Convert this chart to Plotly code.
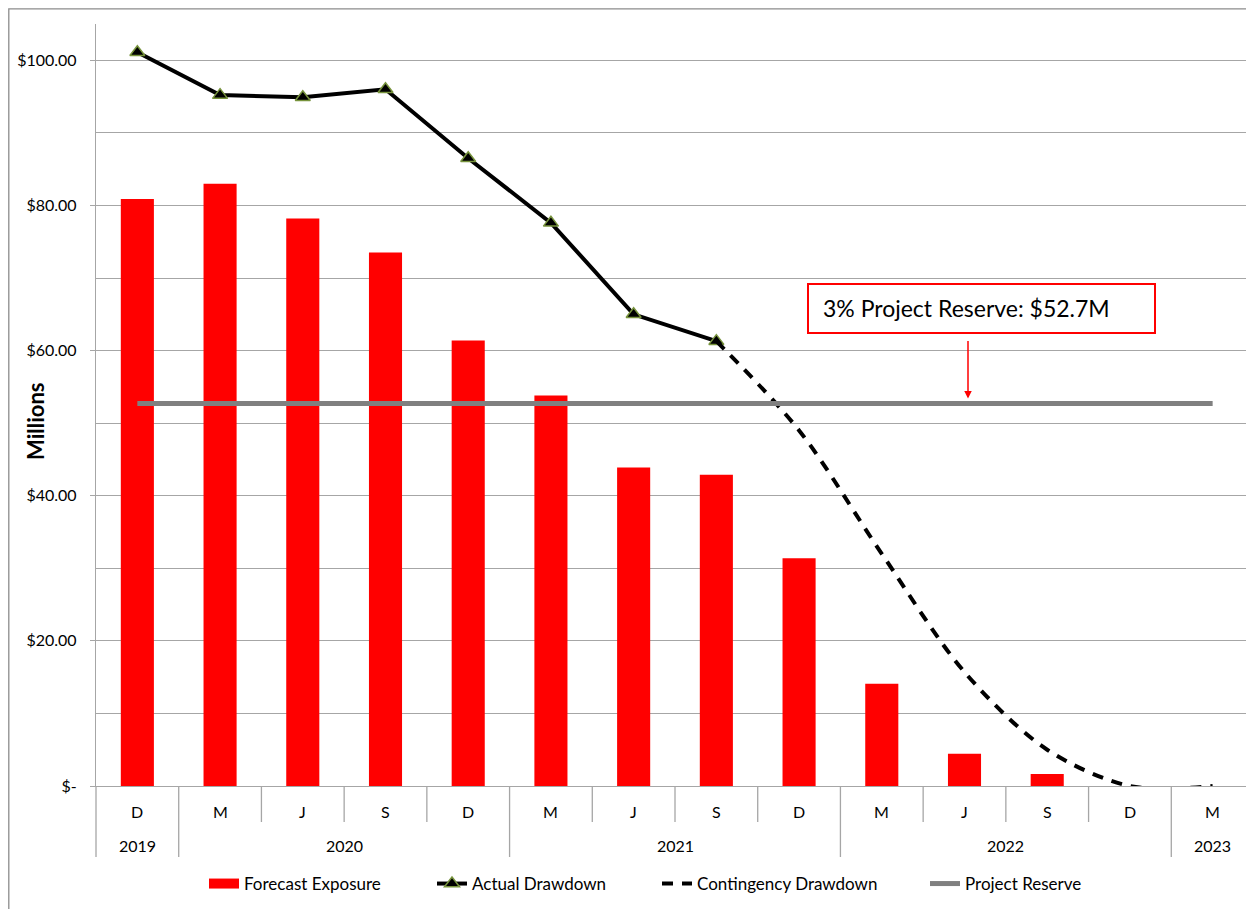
import plotly.graph_objects as go

# ---------------- data ----------------
quarters = ["D", "M", "J", "S", "D", "M", "J", "S", "D", "M", "J", "S", "D", "M"]
years = ["2019", "2020", "2020", "2020", "2020", "2021", "2021", "2021", "2021",
         "2022", "2022", "2022", "2022", "2023"]
forecast_exposure = [80.9, 83.0, 78.2, 73.5, 61.4, 53.8, 43.9, 42.9, 31.4, 14.1, 4.45, 1.65, 0, 0]
actual_drawdown = [101.1, 95.2, 94.9, 96.0, 86.5, 77.6, 65.0, 61.3,
                   None, None, None, None, None, None]
contingency_drawdown = [None, None, None, None, None, None, None,
                        61.3, 49.0, 32.0, 15.7, 5.0, 0, 0]
project_reserve = [52.7] * 14
y_tick_vals = [0, 20, 40, 60, 80, 100]
y_tick_text = ["$-", "$20.00", "$40.00", "$60.00", "$80.00", "$100.00"]
reserve_label = "3% Project Reserve: $52.7M"

FONT = "Lato"
x = list(range(len(quarters)))
n = len(quarters)

fig = go.Figure()
fig.add_trace(go.Bar(x=x, y=forecast_exposure, name="Forecast Exposure", showlegend=False,
                     marker=dict(color="#FF0000", line=dict(width=0)), width=0.4))
# legend proxy for the bars (wide red swatch like the original)
fig.add_trace(go.Scatter(x=[None], y=[None], name="Forecast Exposure", mode="lines",
                         line=dict(color="#FF0000", width=11), legend="legend"))
fig.add_trace(go.Scatter(x=x, y=actual_drawdown, name="Actual Drawdown", mode="lines+markers",
                         line=dict(color="black", width=4),
                         marker=dict(symbol="triangle-up", size=13, color="black",
                                     line=dict(color="#77933C", width=1.5)),
                         legend="legend2"))
fig.add_trace(go.Scatter(x=x, y=contingency_drawdown, name="Contingency Drawdown", mode="lines",
                         line=dict(color="black", width=4, dash="11px,9px",
                                   shape="spline", smoothing=0.9),
                         legend="legend3"))
fig.add_trace(go.Scatter(x=x, y=project_reserve, name="Project Reserve", mode="lines",
                         line=dict(color="#808080", width=5), legend="legend4"))

# ------------- layout geometry -------------
# the page body adds an 8px offset; all screen positions below are converted
OFF = 8
W, H = 1246, 901
ml, mr, mt, mb = 96 - OFF, 0, 24 - OFF, 123
ph = H - mt - mb
pw = W - ml - mr

def px_to_paper_x(px):
    return (px - OFF - ml) / pw

def px_to_paper_y(py):
    return (H - mb - (py - OFF)) / ph

shapes = []
annotations = []

# category separators on the x axis
year_starts = [i for i in range(n) if i == 0 or years[i] != years[i - 1]]
for i in range(n + 1):
    is_year = i in year_starts or i == n
    y1 = -71 / ph if is_year else -36 / ph
    shapes.append(dict(type="line", xref="paper", yref="paper",
                       x0=i / n, x1=i / n, y0=0, y1=y1,
                       line=dict(color="#A6A6A6", width=1.3)))

# quarter labels
for i, q in enumerate(quarters):
    annotations.append(dict(x=i, y=0, xref="x", yref="paper", text=q, showarrow=False,
                            yanchor="middle", yshift=-25,
                            font=dict(family=FONT, size=16, color="black")))
# year labels
for k, s in enumerate(year_starts):
    e = (year_starts[k + 1] - 1) if k + 1 < len(year_starts) else n - 1
    annotations.append(dict(x=(s + e) / 2, y=0, xref="x", yref="paper", text=years[s],
                            showarrow=False, yanchor="middle", yshift=-59,
                            font=dict(family=FONT, size=16, color="black")))

# y-axis title
annotations.append(dict(x=px_to_paper_x(35), y=px_to_paper_y(422), xref="paper", yref="paper",
                        text="<b>Millions</b>", textangle=-90, showarrow=False,
                        xanchor="center", yanchor="middle",
                        font=dict(family=FONT, size=22, color="black")))

# reserve call-out box
shapes.append(dict(type="rect", xref="paper", yref="paper",
                   x0=px_to_paper_x(808), x1=px_to_paper_x(1155),
                   y0=px_to_paper_y(333), y1=px_to_paper_y(284),
                   line=dict(color="#FF0000", width=2), fillcolor="white", layer="above"))
annotations.append(dict(x=px_to_paper_x(821), y=px_to_paper_y(308), xref="paper", yref="paper",
                        text=reserve_label, showarrow=False, xanchor="left", yanchor="middle",
                        font=dict(family=FONT, size=23, color="black")))
annotations.append(dict(x=px_to_paper_x(968), y=project_reserve[0], xref="paper", yref="y",
                        text="", showarrow=True, ax=0, ay=-64, arrowhead=2, arrowsize=1,
                        arrowwidth=1.5, arrowcolor="#FF0000", standoff=5))

# outer chart border (as close to the page corner as the canvas allows)
shapes.append(dict(type="rect", xref="paper", yref="paper",
                   x0=px_to_paper_x(8.8), x1=px_to_paper_x(1270),
                   y0=px_to_paper_y(940), y1=px_to_paper_y(8.8),
                   line=dict(color="#8C8C8C", width=1.3), fillcolor="rgba(0,0,0,0)"))

def legend_at(px_text_start):
    return dict(orientation="h", x=px_to_paper_x(px_text_start - 40), xanchor="left",
                y=px_to_paper_y(884), yanchor="middle",
                font=dict(family=FONT, size=17, color="black"),
                bgcolor="rgba(0,0,0,0)")

fig.update_layout(
    width=W, height=H, autosize=False,
    margin=dict(l=ml, r=mr, t=mt, b=mb),
    paper_bgcolor="white", plot_bgcolor="white",
    font=dict(family=FONT, size=16, color="black"),
    bargap=0.6,
    showlegend=True,
    legend=legend_at(244),
    legend2=legend_at(472),
    legend3=legend_at(697),
    legend4=legend_at(965),
    shapes=shapes,
    annotations=annotations,
)
fig.update_xaxes(range=[-0.5, n - 0.5], showticklabels=False, ticks="", showgrid=False,
                 zeroline=False, showline=True, linecolor="#A6A6A6", linewidth=1.3,
                 fixedrange=True)
fig.update_yaxes(range=[0, 105], tickvals=y_tick_vals, ticktext=y_tick_text,
                 ticks="outside", ticklen=5, tickcolor="#A6A6A6", tickwidth=1.3,
                 showgrid=True, gridcolor="#A6A6A6", gridwidth=1.3,
                 minor=dict(dtick=10, tick0=0, showgrid=True, gridcolor="#A6A6A6", gridwidth=1.3),
                 zeroline=False, showline=True, linecolor="#A6A6A6", linewidth=1.3,
                 ticklabelstandoff=10, tickfont=dict(family=FONT, size=16))

fig.write_html("out.html")
